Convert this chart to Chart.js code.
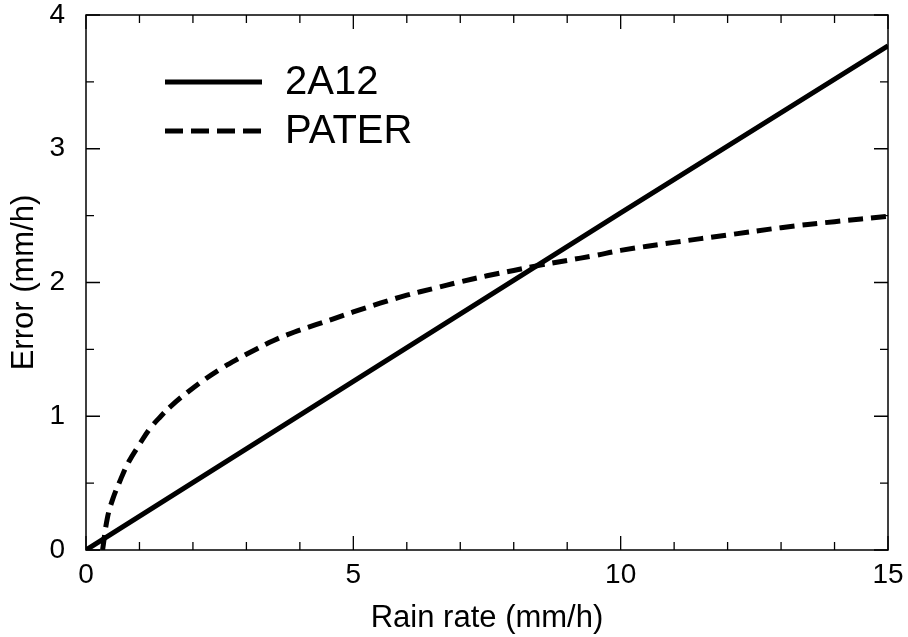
<!DOCTYPE html>
<html>
<head>
<meta charset="utf-8">
<script src="https://cdn.jsdelivr.net/npm/chart.js@4"></script>
<style>
  html, body { margin: 0; padding: 0; background: #fff; }
  canvas { display: block; }
</style>
</head>
<body>
<canvas id="chart" width="908" height="637"></canvas>
<script>
// values
const seriesLabels = ['2A12', 'PATER'];

const rainRate2A12 = [0, 5, 10, 15];
const error2A12 = [0, 1.26, 2.52, 3.77];

const rainRatePater = [0.31, 0.4, 0.5, 0.65, 0.8, 1.0, 1.2, 1.4, 1.6, 1.9, 2.2, 2.5, 2.8, 3.2, 3.5, 3.9, 4.3, 4.6, 5.0,
  5.5, 6.0, 6.5, 7.0, 7.5, 8.0, 8.5, 9.0, 9.5, 10.0, 11.0, 12.0, 13.0, 14.0, 15.0];
const errorPater = [0, 0.24, 0.38, 0.53, 0.66, 0.79, 0.91, 1.0, 1.08, 1.18, 1.27, 1.35, 1.42, 1.505, 1.565, 1.63, 1.685, 1.725, 1.78,
  1.845, 1.905, 1.955, 2.005, 2.05, 2.09, 2.13, 2.165, 2.2, 2.24, 2.3, 2.355, 2.41, 2.455, 2.495];

const xMajorLabels = [0, 5, 10, 15];
const yMajorLabels = [0, 1, 2, 3, 4];

const FONT = "'Liberation Sans', Arial, Helvetica, sans-serif";

const toPoints = (xs, ys) => xs.map((x, i) => ({ x, y: ys[i] }));

// box frame with inward ticks on all four sides
const framePlugin = {
  id: 'frame',
  afterDraw(chart) {
    const { ctx, chartArea: a, scales: { x, y } } = chart;
    ctx.save();
    ctx.strokeStyle = '#000';
    ctx.lineWidth = 1.5;
    ctx.strokeRect(a.left, a.top, a.right - a.left, a.bottom - a.top);
    ctx.lineWidth = 1.3;
    ctx.beginPath();
    x.ticks.forEach((t) => {
      const px = x.getPixelForValue(t.value);
      const len = t.value % 5 === 0 ? 14 : 8;
      ctx.moveTo(px, a.bottom); ctx.lineTo(px, a.bottom - len);
      ctx.moveTo(px, a.top); ctx.lineTo(px, a.top + len);
    });
    y.ticks.forEach((t) => {
      const py = y.getPixelForValue(t.value);
      const len = t.value % 1 === 0 ? 14 : 8;
      ctx.moveTo(a.left, py); ctx.lineTo(a.left + len, py);
      ctx.moveTo(a.right, py); ctx.lineTo(a.right - len, py);
    });
    ctx.stroke();
    ctx.restore();
  },
};

// legend drawn inside the plot, upper left
const legendPlugin = {
  id: 'insideLegend',
  afterDraw(chart) {
    const { ctx } = chart;
    ctx.save();
    chart.data.datasets.forEach((ds, i) => {
      const yy = 82 + i * 49;
      ctx.strokeStyle = ds.borderColor;
      ctx.lineWidth = 5;
      ctx.setLineDash(ds.legendDash || []);
      ctx.beginPath();
      ctx.moveTo(165, yy);
      ctx.lineTo(262, yy);
      ctx.stroke();
      ctx.setLineDash([]);
      ctx.fillStyle = '#000';
      ctx.font = `40px ${FONT}`;
      ctx.textBaseline = 'middle';
      ctx.fillText(ds.label, 285, yy + 1);
    });
    ctx.restore();
  },
};

new Chart(document.getElementById('chart'), {
  type: 'line',
  data: {
    datasets: [
      {
        label: seriesLabels[0],
        data: toPoints(rainRate2A12, error2A12),
        borderColor: '#000',
        borderWidth: 5,
        pointRadius: 0,
        tension: 0,
      },
      {
        label: seriesLabels[1],
        data: toPoints(rainRatePater, errorPater),
        borderColor: '#000',
        borderWidth: 5,
        borderDash: [15, 8],
        legendDash: [18, 8],
        pointRadius: 0,
        tension: 0.4,
      },
    ],
  },
  options: {
    responsive: false,
    devicePixelRatio: 1,
    animation: false,
    layout: { padding: { top: 15, right: 20, left: 0, bottom: 0 } },
    plugins: {
      legend: { display: false },
      tooltip: { enabled: false },
    },
    scales: {
      x: {
        type: 'linear',
        min: 0,
        max: 15,
        grid: { display: false, drawTicks: false },
        border: { display: false },
        ticks: {
          stepSize: 1,
          autoSkip: false,
          maxRotation: 0,
          padding: 8,
          color: '#000',
          font: { family: FONT, size: 28 },
          callback: (v) => (xMajorLabels.includes(v) ? v : ''),
        },
        title: {
          display: true,
          text: 'Rain rate (mm/h)',
          color: '#000',
          font: { family: FONT, size: 31 },
          padding: { top: 0, bottom: 0 },
        },
        afterFit: (scale) => {
          scale.height = 87;
          scale.paddingLeft = 0;
          scale.paddingRight = 0;
        },
      },
      y: {
        min: 0,
        max: 4,
        grid: { display: false, drawTicks: false },
        border: { display: false },
        ticks: {
          stepSize: 0.5,
          autoSkip: false,
          padding: 21,
          color: '#000',
          font: { family: FONT, size: 28 },
          callback: (v) => (yMajorLabels.includes(v) ? v : ''),
        },
        title: {
          display: true,
          text: 'Error (mm/h)',
          color: '#000',
          font: { family: FONT, size: 31 },
          padding: { top: 6, bottom: 0 },
        },
        afterFit: (scale) => {
          scale.width = 86;
          scale.paddingTop = 0;
          scale.paddingBottom = 0;
        },
      },
    },
  },
  plugins: [framePlugin, legendPlugin],
});
</script>
</body>
</html>
